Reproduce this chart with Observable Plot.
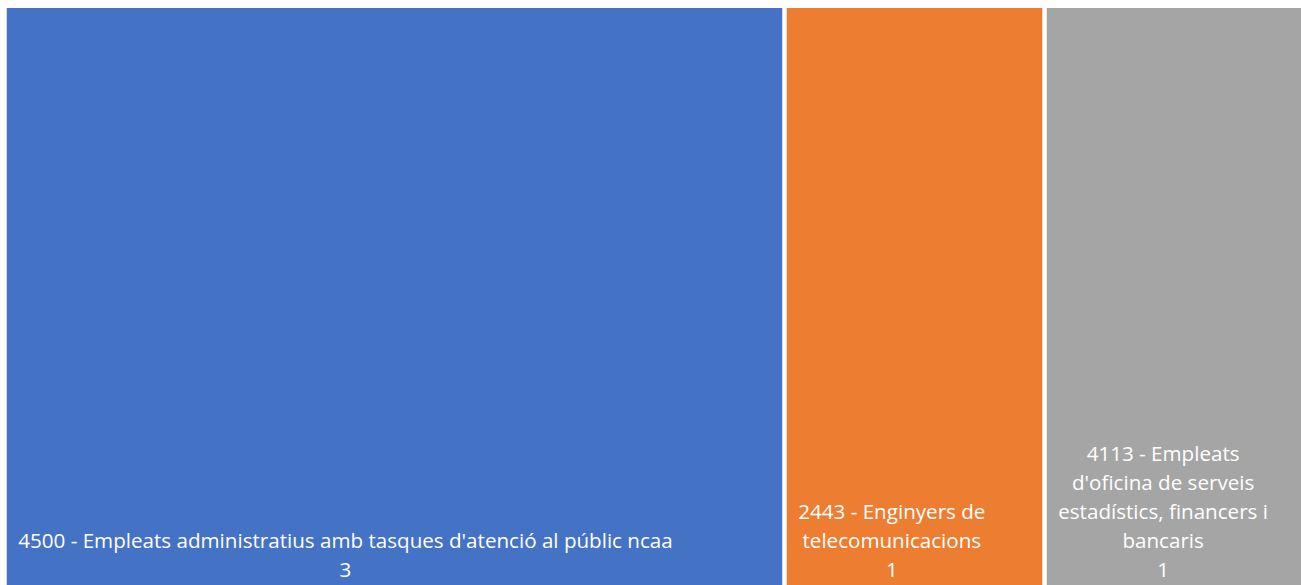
<!DOCTYPE html>
<html>
<head>
<meta charset="utf-8">
<script src="https://cdn.jsdelivr.net/npm/d3@7"></script>
<script src="https://cdn.jsdelivr.net/npm/@observablehq/plot@0.6"></script>
<style>
  html, body { margin: 0; padding: 0; background: #fff; overflow: hidden; }
  #chart svg { display: block; }
</style>
</head>
<body>
<div id="chart"></div>
<script>
const categories = [
  "4500 - Empleats administratius amb tasques d'atenció al públic ncaa",
  "2443 - Enginyers de telecomunicacions",
  "4113 - Empleats d'oficina de serveis estadístics, financers i bancaris"
];
const counts = [3, 1, 1];
const colors = ["#4472C4", "#ED7D31", "#A5A5A5"];

const W = 1301, H = 585;
const FONT_SIZE = 20.6;
const FONT_FAMILY = "Open Sans";
const xRange = [4.5, 1304.5];
const total = d3.sum(counts);
const pxPerUnit = (xRange[1] - xRange[0]) / total;
const pad = 11;
const wrapPad = 12;

const ctx = document.createElement("canvas").getContext("2d");
ctx.font = `${FONT_SIZE}px "${FONT_FAMILY}"`;
function wrap(str, maxW) {
  const words = str.split(" ");
  const lines = [];
  let cur = "";
  for (const w of words) {
    const t = cur ? cur + " " + w : w;
    if (cur && ctx.measureText(t).width > maxW) { lines.push(cur); cur = w; }
    else cur = t;
  }
  if (cur) lines.push(cur);
  return lines;
}

let acc = 0;
const data = categories.map((name, i) => {
  const x1 = acc, x2 = acc + counts[i];
  acc = x2;
  const cellPx = counts[i] * pxPerUnit - 4.5;
  const lines = wrap(name, cellPx - 2 * wrapPad);
  const blockW = d3.max(lines, l => ctx.measureText(l).width);
  const leftPad = Math.min(pad, (cellPx - blockW) / 2);
  const cx = x1 + (2.25 + leftPad + blockW / 2) / pxPerUnit;
  return {name, count: counts[i], color: colors[i], x1, x2, cx,
          label: lines.join("\n") + "\n" + counts[i]};
});

const chart = Plot.plot({
  width: W,
  height: H,
  margin: 0,
  style: {background: "#fff", fontFamily: `"${FONT_FAMILY}"`},
  x: {domain: [0, total], range: xRange, axis: null},
  y: {domain: [0, 1], range: [H + 5, 8], axis: null},
  marks: [
    Plot.rect(data, {
      x1: "x1", x2: "x2", y1: 0, y2: 1,
      fill: "color",
      insetLeft: 2.25, insetRight: 2.25
    }),
    Plot.text(data, {
      x: "cx", y: 0,
      text: "label",
      fill: "#fff",
      fontSize: FONT_SIZE,
      textAnchor: "middle",
      lineAnchor: "bottom",
      lineHeight: 1.4,
      dy: -14
    })
  ]
});
document.getElementById("chart").appendChild(chart);
</script>
</body>
</html>
